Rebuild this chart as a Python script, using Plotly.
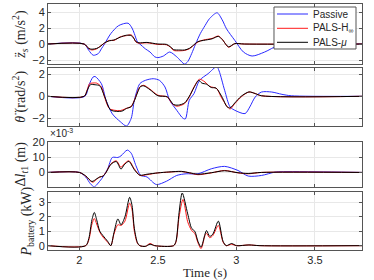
import plotly.graph_objects as go

# ---------------- data ----------------
# Panel 1: body vertical acceleration (m/s^2)
t_zs_passive = [1.8, 2.03, 2.06, 2.088, 2.12, 2.14, 2.16, 2.2, 2.25, 2.31, 2.335, 2.35, 2.37, 2.385, 2.42, 2.45, 2.48, 2.5, 2.535, 2.575, 2.62, 2.67, 2.69, 2.715, 2.74, 2.77, 2.8, 2.83, 2.877, 2.91, 2.937, 2.99, 3.045, 3.1, 3.18, 3.27, 3.35, 3.8]
zs_passive = [0, 0, -0.8, -1.4, -1.2, -0.6, 0.0, 1.3, 2.3, 2.6, 2.0, 1.3, 0.25, 0.0, -0.6, -1.0, -1.6, -1.7, -1.5, -1.0, -1.6, -2.5, -2.2, -1.2, 0.0, 1.3, 2.3, 3.2, 3.9, 3.0, 1.9, 0.45, -1.0, -1.5, -1.0, -0.15, 0.0, 0.0]
t_zs_hinf = [1.8, 2.03, 2.06, 2.08, 2.11, 2.13, 2.16, 2.19, 2.22, 2.26, 2.3, 2.33, 2.345, 2.36, 2.38, 2.43, 2.5, 2.555, 2.58, 2.6, 2.64, 2.67, 2.7, 2.72, 2.755, 2.79, 2.845, 2.885, 2.91, 2.95, 2.99, 3.05, 3.8]
zs_hinf = [0, 0, -0.6, -0.75, -0.6, -0.3, 0.1, 0.45, 0.45, 0.9, 1.05, 1.15, 0.8, 0.25, 0.1, 0.15, -0.05, -0.1, -0.4, -0.8, -0.85, -0.8, -0.6, -0.3, 0.25, 0.5, 0.7, 1.0, 0.6, -0.4, 0.05, 0.0, 0.0]
t_zs_mu = [1.8, 2.03, 2.06, 2.08, 2.11, 2.13, 2.16, 2.19, 2.22, 2.26, 2.3, 2.33, 2.345, 2.36, 2.38, 2.43, 2.5, 2.555, 2.58, 2.6, 2.64, 2.67, 2.7, 2.72, 2.755, 2.79, 2.845, 2.885, 2.91, 2.95, 2.99, 3.05, 3.8]
zs_mu = [0, 0, -0.55, -0.65, -0.55, -0.35, 0.15, 0.4, 0.5, 0.85, 1.1, 1.05, 0.75, 0.3, 0.15, 0.2, 0.0, -0.05, -0.35, -0.7, -0.75, -0.75, -0.55, -0.25, 0.3, 0.45, 0.65, 0.95, 0.55, -0.35, 0.05, 0.0, 0.0]

# Panel 2: pitch acceleration (rad/s^2)
t_th_passive = [1.8, 2.035, 2.06, 2.087, 2.1, 2.14, 2.17, 2.21, 2.26, 2.3, 2.33, 2.35, 2.385, 2.42, 2.47, 2.51, 2.545, 2.575, 2.62, 2.66, 2.675, 2.7, 2.73, 2.765, 2.82, 2.875, 2.89, 2.925, 2.96, 2.99, 3.055, 3.085, 3.12, 3.16, 3.225, 3.29, 3.35, 3.8]
th_passive = [0, 0, 1.0, 1.75, 1.8, 1.15, -0.36, -1.6, -2.3, -2.7, -2.0, -0.36, 1.15, 1.45, 1.6, 1.45, 0.85, -0.36, -1.27, -2.0, -2.05, -0.36, 0.25, 1.45, 2.06, 2.7, 2.3, 0.55, -0.97, -1.27, -1.57, -0.97, -0.06, 0.39, 0.39, 0.18, 0.05, 0.0]
t_th_hinf = [1.8, 2.03, 2.05, 2.065, 2.08, 2.11, 2.14, 2.16, 2.19, 2.225, 2.26, 2.29, 2.33, 2.35, 2.385, 2.41, 2.445, 2.5, 2.56, 2.59, 2.62, 2.67, 2.7, 2.73, 2.765, 2.8, 2.83, 2.875, 2.9, 2.94, 2.96, 2.99, 3.035, 3.08, 3.12, 3.16, 3.8]
th_hinf = [0, 0, 0.6, 1.15, 1.2, 1.2, 0.85, -0.06, -1.1, -1.27, -1.3, -1.15, -0.9, -0.36, 0.85, 1.0, 0.7, 0.1, -0.06, -0.66, -0.9, -0.66, -0.06, 0.85, 1.55, 1.3, 0.9, 0.7, 0.0, -0.9, -1.15, -0.66, 0.0, 0.39, 0.25, 0.05, 0.0]
t_th_mu = [1.8, 2.03, 2.05, 2.07, 2.1, 2.13, 2.16, 2.2, 2.27, 2.3, 2.33, 2.35, 2.39, 2.41, 2.45, 2.5, 2.56, 2.6, 2.63, 2.67, 2.7, 2.73, 2.76, 2.78, 2.81, 2.84, 2.87, 2.91, 2.94, 2.96, 2.99, 3.03, 3.08, 3.12, 3.16, 3.8]
th_mu = [0, 0, 0.55, 1.05, 1.05, 0.95, 0.0, -1.25, -1.35, -1.1, -0.95, -0.4, 0.9, 0.95, 0.6, 0.05, -0.05, -0.75, -0.8, -0.6, 0.0, 0.8, 1.45, 1.2, 1.1, 0.8, 0.75, -0.1, -0.95, -1.05, -0.6, 0.0, 0.4, 0.25, 0.05, 0.0]

# Panel 3: tyre deflection (x1e-3 m)
t_dl_passive = [1.8, 2.0, 2.04, 2.07, 2.095, 2.12, 2.15, 2.18, 2.21, 2.245, 2.265, 2.305, 2.33, 2.36, 2.39, 2.43, 2.49, 2.555, 2.62, 2.68, 2.755, 2.84, 2.925, 3.01, 3.075, 3.16, 3.245, 3.3, 3.8]
dl_passive = [0, 0, -3.0, -7.5, -9.5, -7.0, -3.0, 2.4, 9.9, 9.9, 11.0, 14.8, 12.7, 4.5, -1.9, -3.0, -8.0, -5.8, -2.0, -0.9, -0.9, 2.4, 4.0, 1.3, -2.4, -2.0, 0.2, 0.5, 0.0]
t_dl_hinf = [1.8, 2.0, 2.04, 2.085, 2.11, 2.13, 2.15, 2.17, 2.2, 2.235, 2.265, 2.285, 2.315, 2.35, 2.385, 2.43, 2.5, 2.57, 2.65, 2.7, 2.755, 2.84, 2.925, 3.01, 3.075, 3.16, 3.8]
dl_hinf = [0, 0, -2.5, -6.5, -4.5, -3.0, -2.4, 0.2, 5.6, 7.7, 3.4, 5.6, 7.7, 2.4, -2.0, -1.5, -0.3, 0.2, 0.6, -0.3, -1.5, -0.3, 1.3, -0.3, -0.9, 0.0, 0.0]
t_dl_mu = [1.8, 2.0, 2.04, 2.08, 2.11, 2.13, 2.15, 2.17, 2.2, 2.235, 2.265, 2.285, 2.315, 2.35, 2.385, 2.43, 2.5, 2.57, 2.65, 2.7, 2.755, 2.84, 2.925, 3.01, 3.075, 3.16, 3.8]
dl_mu = [0, 0, -2.3, -6.0, -4.2, -3.0, -2.5, 0.0, 5.3, 7.2, 2.2, 5.0, 7.3, 1.8, -1.8, -1.2, -0.3, 0.3, 0.7, -0.2, -1.2, -0.2, 1.1, -0.2, -0.7, 0.0, 0.0]

# Panel 4: battery power (kW)
t_p_hinf = [1.8, 2.04, 2.06, 2.08, 2.095, 2.11, 2.13, 2.15, 2.18, 2.2, 2.22, 2.245, 2.265, 2.29, 2.32, 2.335, 2.35, 2.37, 2.385, 2.42, 2.45, 2.48, 2.6, 2.615, 2.635, 2.66, 2.69, 2.715, 2.735, 2.755, 2.775, 2.8, 2.81, 2.83, 2.85, 2.885, 2.915, 2.935, 2.97, 3.0, 3.08, 3.15, 3.8]
p_hinf = [0, 0, 0.4, 1.5, 1.88, 1.5, 0.94, 0.6, 0.24, 0.0, 0.8, 1.45, 1.4, 1.7, 2.95, 2.5, 1.0, 0.15, 0.0, -0.05, 0.15, 0.0, 0.0, 0.25, 2.0, 3.2, 1.65, 1.05, 0.85, 0.2, -0.2, 0.7, 0.85, 0.55, 0.7, 1.4, 0.25, 0.0, 0.1, 0.0, 0.05, 0.0, 0.0]
t_p_mu = [1.8, 2.04, 2.06, 2.08, 2.095, 2.11, 2.13, 2.15, 2.18, 2.2, 2.22, 2.245, 2.265, 2.29, 2.32, 2.335, 2.35, 2.37, 2.385, 2.42, 2.45, 2.48, 2.6, 2.615, 2.635, 2.655, 2.69, 2.715, 2.735, 2.755, 2.775, 2.8, 2.81, 2.83, 2.85, 2.885, 2.915, 2.935, 2.97, 3.0, 3.08, 3.15, 3.8]
p_mu = [0, 0, 0.5, 1.8, 2.3, 1.8, 1.0, 0.7, 0.3, 0.0, 0.9, 1.85, 1.45, 2.0, 3.35, 2.8, 1.2, 0.2, 0.0, -0.05, 0.1, 0.0, 0.0, 0.3, 2.3, 3.65, 2.2, 1.2, 1.0, 0.3, -0.1, 0.8, 1.05, 0.65, 0.8, 1.7, 0.3, 0.0, 0.15, 0.0, 0.05, 0.0, 0.0]

series_names = ["Passive", "PALS-H<sub>∞</sub>", "PALS-<i>μ</i>"]
series_colors = ["#2a2aff", "#ff1a1a", "#000000"]

x_ticks = [2, 2.5, 3, 3.5]
y1_ticks = [-2, 0, 2, 4]
y2_ticks = [-2, 0, 2]
y3_ticks = [0, 10, 20]
y4_ticks = [0, 1, 2, 3]

# ---------------- figure ----------------
fig = go.Figure()

def add(tx, yv, idx, axis):
    fig.add_trace(go.Scatter(
        x=tx, y=yv, mode="lines", name=series_names[idx],
        line=dict(color=series_colors[idx], width=1, shape="spline", smoothing=0.8),
        xaxis="x", yaxis=axis, showlegend=False, legendgroup=str(idx)))

add(t_zs_passive, zs_passive, 0, "y")
add(t_zs_hinf, zs_hinf, 1, "y")
add(t_zs_mu, zs_mu, 2, "y")
add(t_th_passive, th_passive, 0, "y2")
add(t_th_hinf, th_hinf, 1, "y2")
add(t_th_mu, th_mu, 2, "y2")
add(t_dl_passive, dl_passive, 0, "y3")
add(t_dl_hinf, dl_hinf, 1, "y3")
add(t_dl_mu, dl_mu, 2, "y3")
add(t_p_hinf, p_hinf, 1, "y4")
add(t_p_mu, p_mu, 2, "y4")

sans = "Liberation Sans, Arial, sans-serif"
serif = "Liberation Serif, Times New Roman, serif"
tick_font = dict(family=sans, size=11, color="#262626")
title_font = dict(family=serif, size=14, color="#262626")
axcol = "#555555"
gridcol = "#e8e8e8"

def yax(domain, rng, ticks, title):
    return dict(domain=domain, range=rng, tickvals=ticks, anchor="x",
                showline=True, linecolor=axcol, linewidth=1, mirror="ticks",
                ticks="inside", ticklen=3, tickcolor=axcol,
                showgrid=True, gridcolor=gridcol, zeroline=False,
                tickfont=tick_font, title=dict(text=title, font=title_font, standoff=3))

fig.update_layout(
    width=374, height=280,
    margin=dict(l=48, r=12, t=4, b=30, autoexpand=False),
    paper_bgcolor="white", plot_bgcolor="white",
    showlegend=False,
    xaxis=dict(domain=[0, 1], range=[1.8, 3.8], tickvals=x_ticks, anchor="y4",
               showline=True, linecolor=axcol, linewidth=1, mirror="ticks",
               ticks="inside", ticklen=3, tickcolor=axcol,
               showgrid=True, gridcolor=gridcol, zeroline=False,
               tickfont=tick_font,
               title=dict(text="Time (s)", font=dict(family=serif, size=13, color="#262626"), standoff=2)),
    yaxis=yax([0.756, 1.0], [-2.5, 5.0], y1_ticks,
              "<i>z\u0308</i><sub><i>s</i></sub> (m/s<sup>2</sup>)"),
    yaxis2=yax([0.504, 0.741], [-2.7, 2.6], y2_ticks,
               "<i>\u03b8\u0308</i> (rad/s<sup>2</sup>)"),
    yaxis3=yax([0.257, 0.440], [-9.5, 20.3], y3_ticks,
               "\u0394<i>l</i><sub><i>t</i>1</sub> (m)"),
    yaxis4=yax([0.0, 0.2346], [-0.3, 3.7], y4_ticks,
               "<i>P</i><sub>battery</sub> (kW)"),
)

# frames for upper panels (x axes without labels)
for i, yname in [(5, "y"), (6, "y2"), (7, "y3")]:
    fig.update_layout(**{f"xaxis{i}": dict(
        matches="x", overlaying="x", anchor=yname, range=[1.8, 3.8], tickvals=x_ticks,
        showline=True, linecolor=axcol, linewidth=1, mirror="ticks",
        ticks="inside", ticklen=3, tickcolor=axcol, showticklabels=False,
        showgrid=False, zeroline=False)})
    fig.add_trace(go.Scatter(x=[None], y=[None], xaxis=f"x{i}", yaxis=yname,
                             showlegend=False, hoverinfo="skip"))

fig.add_annotation(text="\u00d710<sup>-3</sup>", xref="paper", yref="paper",
                   x=0.0, y=0.445, xanchor="left", yanchor="bottom", showarrow=False,
                   font=dict(family=sans, size=10, color="#262626"))

# legend box (top-right of first panel)
leg_x0, leg_x1, leg_y0, leg_y1 = 0.7197, 0.9809, 0.8171, 0.9878
leg_rows = [0.9593, 0.9012, 0.8443]
fig.add_shape(type="rect", xref="paper", yref="paper", x0=leg_x0, x1=leg_x1, y0=leg_y0, y1=leg_y1,
              line=dict(color=axcol, width=1), fillcolor="white", layer="above")
for name, col, yr in zip(series_names, series_colors, leg_rows):
    fig.add_shape(type="line", xref="paper", yref="paper", x0=0.7293, x1=0.828, y0=yr, y1=yr,
                  line=dict(color=col, width=1), layer="above")
    fig.add_annotation(text=name, xref="paper", yref="paper", x=0.8376, y=yr,
                       xanchor="left", yanchor="middle", showarrow=False,
                       font=dict(family=sans, size=10, color="#262626"))

fig.write_html("out.html", config={"displayModeBar": False})

# remove default page margin so the figure sits at the window's top-left
with open("out.html", "r", encoding="utf-8") as f:
    html = f.read()
html = html.replace("<head>", "<head><style>html,body{margin:0;padding:0;}</style>", 1)
with open("out.html", "w", encoding="utf-8") as f:
    f.write(html)
